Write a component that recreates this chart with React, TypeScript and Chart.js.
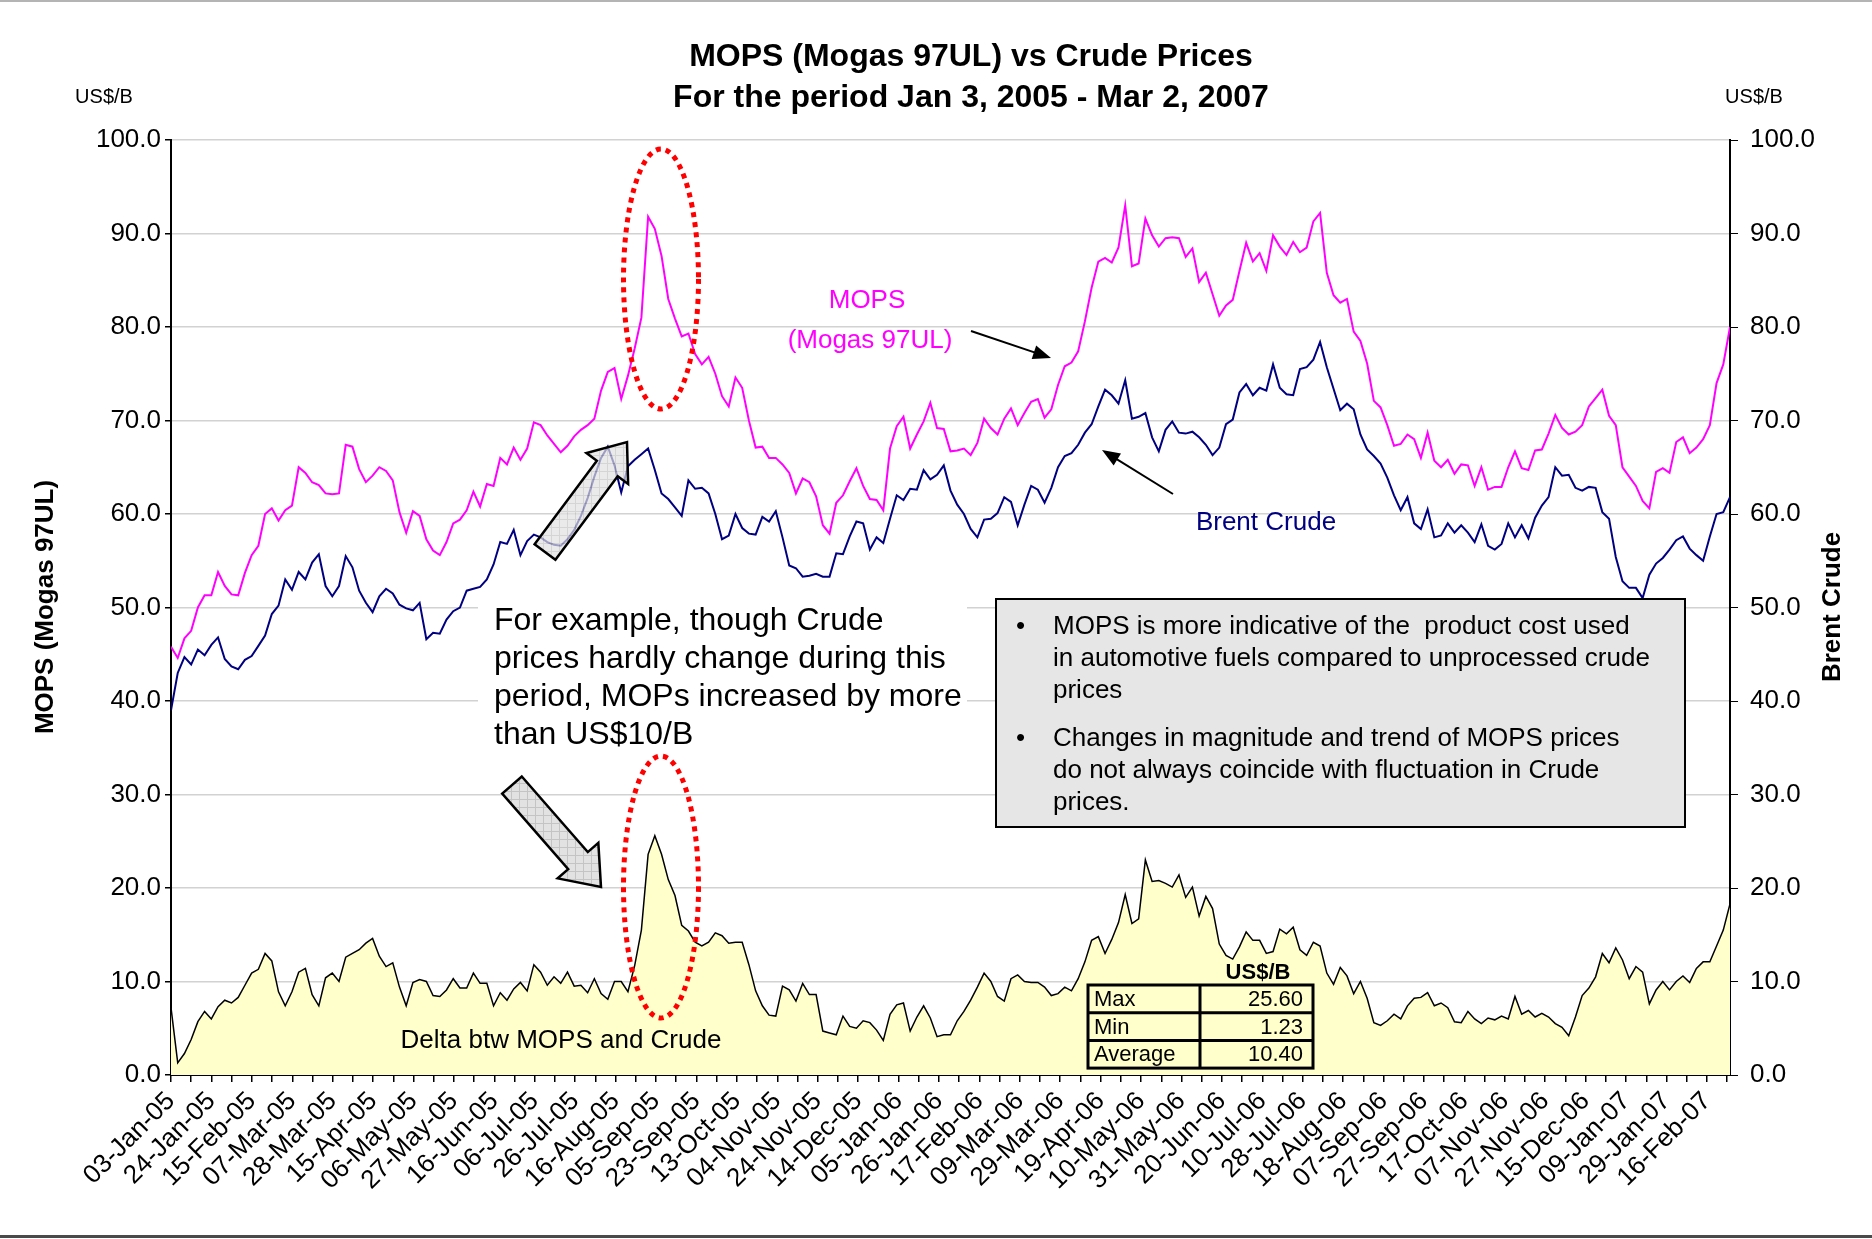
import React, { useEffect, useRef } from 'react';
import { Chart, registerables } from 'chart.js';

Chart.register(...registerables);

// Date labels shown on the x axis: one every 14 trading days
const tickLabels = [
  '03-Jan-05', '24-Jan-05', '15-Feb-05', '07-Mar-05', '28-Mar-05', '15-Apr-05', '06-May-05',
  '27-May-05', '16-Jun-05', '06-Jul-05', '26-Jul-05', '16-Aug-05', '05-Sep-05', '23-Sep-05',
  '13-Oct-05', '04-Nov-05', '24-Nov-05', '14-Dec-05', '05-Jan-06', '26-Jan-06', '17-Feb-06',
  '09-Mar-06', '29-Mar-06', '19-Apr-06', '10-May-06', '31-May-06', '20-Jun-06', '10-Jul-06',
  '28-Jul-06', '18-Aug-06', '07-Sep-06', '27-Sep-06', '17-Oct-06', '07-Nov-06', '27-Nov-06',
  '15-Dec-06', '09-Jan-07', '29-Jan-07', '16-Feb-07',
];
const TRADING_DAYS = 540; // 03-Jan-05 .. 02-Mar-07
const LABEL_EVERY = 14;
const TICK_EVERY = 7;

// Sampled values, evenly spaced over the period (US$/B)
const mopsPrices = [
  45.8, 44.6, 46.7, 47.5, 50, 51.3, 51.3, 53.8, 52.3, 51.4,
  51.3, 53.7, 55.6, 56.6, 60, 60.6, 59.3, 60.4, 60.9, 65,
  64.4, 63.4, 63.1, 62.2, 62.1, 62.2, 67.4, 67.2, 64.8, 63.4,
  64.1, 65, 64.6, 63.6, 60.2, 58, 60.3, 59.8, 57.3, 56.1,
  55.6, 57, 59, 59.4, 60.4, 62.4, 60.8, 63.2, 63, 66,
  65.3, 67.1, 65.8, 67, 69.8, 69.5, 68.4, 67.5, 66.6, 67.3,
  68.3, 69, 69.5, 70.2, 73.2, 75.2, 75.6, 72.3, 74.8, 77.7,
  81, 91.8, 90.5, 87.6, 83, 80.9, 79, 79.3, 77.1, 76,
  76.8, 75, 72.6, 71.5, 74.6, 73.5, 70, 67.1, 67.2, 66,
  66, 65.3, 64.4, 62.2, 63.8, 63.4, 61.9, 58.8, 57.9, 61.2,
  62, 63.5, 64.9, 63, 61.6, 61.5, 60.4, 67, 69.4, 70.4,
  67, 68.5, 69.9, 71.9, 69.2, 69.1, 66.7, 66.8, 67, 66.3,
  67.6, 70.2, 69.2, 68.5, 70.2, 71.3, 69.5, 70.8, 72, 72.3,
  70.3, 71.2, 73.8, 75.8, 76.2, 77.4, 80.6, 84.2, 87, 87.4,
  86.9, 88.5, 93, 86.5, 86.8, 91.6, 89.8, 88.6, 89.5, 89.6,
  89.5, 87.5, 88.4, 84.8, 85.8, 83.5, 81.2, 82.3, 82.9, 86,
  89, 87, 87.9, 86, 89.8, 88.6, 87.7, 89.1, 88, 88.5,
  91.3, 92.2, 85.8, 83.4, 82.6, 83, 79.5, 78.5, 76.1, 72.1,
  71.4, 69.5, 67.3, 67.5, 68.5, 68, 66, 68.7, 65.7, 65,
  65.8, 64.3, 65.3, 65.2, 63, 65, 62.6, 62.9, 62.9, 65,
  66.7, 64.9, 64.7, 66.8, 66.9, 68.6, 70.6, 69.2, 68.5, 68.8,
  69.5, 71.5, 72.4, 73.3, 70.5, 69.5, 65, 64, 63, 61.4,
  60.6, 64.5, 64.9, 64.4, 67.7, 68.2, 66.5, 67.1, 68, 69.5,
  74, 76, 80,
];

const brentPrices = [
  39, 43, 44.7, 43.9, 45.5, 44.9, 46, 46.8, 44.5, 43.7,
  43.4, 44.4, 44.8, 45.9, 47, 49.3, 50.2, 53, 51.9, 53.8,
  53, 54.8, 55.7, 52.3, 51.2, 52.3, 55.5, 54.3, 51.8, 50.5,
  49.5, 51.2, 52, 51.5, 50.3, 49.9, 49.7, 50.5, 46.6, 47.3,
  47.2, 48.7, 49.6, 50, 51.8, 52, 52.2, 53, 54.6, 57,
  56.8, 58.3, 55.6, 57.1, 57.8, 57.5, 57, 56.7, 56.6, 57.3,
  58.3, 59.8, 61.7, 64, 66, 67.2, 65.2, 62.3, 65.1, 65.8,
  66.4, 67, 64.7, 62.2, 61.6, 60.7, 59.8, 63.6, 62.7, 62.8,
  62.2, 60, 57.3, 57.7, 60, 58.5, 57.9, 57.8, 59.7, 59.2,
  60.3, 57.5, 54.5, 54.2, 53.3, 53.4, 53.6, 53.3, 53.3, 55.8,
  55.7, 57.6, 59.2, 59, 56.2, 57.5, 56.9, 59.5, 62, 61.5,
  62.7, 62.6, 64.7, 63.7, 64.2, 65.2, 62.5, 61, 60, 58.4,
  57.5, 59.4, 59.5, 60.1, 61.8, 61.3, 58.8, 61, 63, 62.6,
  61.2, 62.8, 65, 66.2, 66.5, 67.4, 68.7, 69.6, 71.5, 73.3,
  72.7, 71.8, 74.3, 70.2, 70.4, 70.8, 68.2, 66.7, 69, 69.9,
  68.7, 68.6, 68.8, 68.2, 67.4, 66.3, 67.1, 69.6, 70.1, 73,
  73.9, 72.7, 73.5, 73.2, 76, 73.5, 72.8, 72.7, 75.5, 75.7,
  76.5, 78.4, 75.7, 73.4, 71.1, 71.8, 71.2, 68.5, 66.9, 66.2,
  65.4, 63.9, 62, 60.4, 61.8, 59, 58.4, 60.5, 57.5, 57.7,
  59, 58, 58.8, 58, 57, 58.9, 56.6, 56.2, 56.8, 59,
  57.5, 58.8, 57.4, 59.6, 60.9, 61.8, 65, 64.1, 64.2, 62.8,
  62.5, 62.9, 62.8, 60.2, 59.5, 55.4, 52.8, 52.1, 52.1, 51,
  53.5, 54.7, 55.3, 56.2, 57.2, 57.6, 56.3, 55.6, 55, 57.6,
  60, 60.2, 61.8,
];

const deltaValues = [
  7.2, 1.3, 2.3, 3.8, 5.7, 6.8, 6, 7.3, 8, 7.7,
  8.3, 9.6, 10.9, 11.3, 13, 12.2, 8.9, 7.4, 8.9, 11,
  11.4, 8.6, 7.4, 10.4, 10.9, 10, 12.6, 13, 13.4, 14.1,
  14.6, 12.7, 11.6, 12, 9.4, 7.4, 9.9, 10.2, 10, 8.5,
  8.4, 9.1, 10.3, 9.3, 9.3, 10.9, 9.8, 9.8, 7.4, 8.8,
  8, 9.2, 9.9, 9, 11.8, 11, 9.6, 10.5, 9.8, 11,
  9.5, 9.6, 8.8, 10.3, 8.7, 8.1, 10, 10, 8.9, 11.7,
  15.5, 23.6, 25.6, 23.6, 20.9, 19.2, 16, 15.4, 14.2, 13.8,
  14.2, 15.2, 14.9, 14.1, 14.2, 14.2, 11.8, 9, 7.4, 6.4,
  6.3, 9.5, 9.1, 7.9, 9.8, 8.6, 8.6, 4.7, 4.5, 4.3,
  6.3, 5.2, 5, 5.8, 5.6, 4.8, 3.7, 6.5, 7.5, 7.7,
  4.7, 6.2, 7.4, 6.1, 4.1, 4.3, 4.3, 5.8, 6.8, 8,
  9.4, 10.9, 10, 8.4, 7.9, 10.3, 10.7, 10, 9.9, 9.9,
  9.4, 8.5, 8.7, 9.4, 9, 10.3, 12.1, 14.4, 14.8, 13,
  14.5, 16.3, 19.3, 16.2, 16.7, 23, 20.7, 20.8, 20.5, 20.1,
  21.4, 19, 20.1, 17, 19.1, 17.8, 14, 12.8, 12.4, 13.7,
  15.3, 14.4, 14.4, 13, 13.2, 15.6, 15.1, 15.8, 13.4, 12.8,
  14.2, 13.8, 10.9, 9.7, 11.5, 10.6, 8.7, 10, 8.2, 5.6,
  5.3, 5.8, 6.5, 6, 7.4, 8.2, 8.3, 8.8, 7.4, 7.7,
  7.2, 5.7, 5.6, 6.8, 6, 5.5, 6.1, 5.9, 6.3, 6,
  8.4, 6.5, 6.9, 6.2, 6.6, 6.2, 5.5, 5.1, 4.2, 6.2,
  8.5, 9.3, 10.5, 13, 12, 13.6, 12.3, 10.3, 11.6, 11,
  7.6, 9.1, 10, 9.1, 10, 10.6, 9.9, 11.4, 12.1, 12.1,
  13.8, 15.5, 18.3,
];

const statsRows = [
  ['Max', '25.60'],
  ['Min', '1.23'],
  ['Average', '10.40'],
];

const bulletLines = [
  ['MOPS is more indicative of the  product cost used', 'in automotive fuels compared to unprocessed crude', 'prices'],
  ['Changes in magnitude and trend of MOPS prices', 'do not always coincide with fluctuation in Crude', 'prices.'],
];

const exampleLines = [
  'For example, though Crude',
  'prices hardly change during this',
  'period, MOPs increased by more',
  'than US$10/B',
];

const FONT = '"Liberation Sans", Arial, sans-serif';

function makePattern(ctx: CanvasRenderingContext2D) {
  const c = document.createElement('canvas');
  c.width = 8;
  c.height = 8;
  const p = c.getContext('2d')!;
  p.fillStyle = '#E2E2E2';
  p.fillRect(0, 0, 8, 8);
  p.fillStyle = '#C4C4C4';
  p.fillRect(7, 0, 1, 8);
  p.fillRect(0, 7, 8, 1);
  return ctx.createPattern(c, 'repeat');
}

function blockArrow(
  ctx: CanvasRenderingContext2D,
  x0: number, y0: number, x1: number, y1: number,
  shaftW: number, headHalf: number, headLen: number, alpha: number,
) {
  const ang = Math.atan2(y1 - y0, x1 - x0);
  const L = Math.hypot(x1 - x0, y1 - y0);
  const c = Math.cos(ang), s = Math.sin(ang);
  const local: [number, number][] = [
    [0, -shaftW / 2], [L - headLen, -shaftW / 2], [L - headLen, -headHalf], [L, 0],
    [L - headLen, headHalf], [L - headLen, shaftW / 2], [0, shaftW / 2],
  ];
  ctx.save();
  ctx.beginPath();
  local.forEach(([u, v], i) => {
    const px = x0 + u * c - v * s;
    const py = y0 + u * s + v * c;
    if (i === 0) ctx.moveTo(px, py); else ctx.lineTo(px, py);
  });
  ctx.closePath();
  ctx.globalAlpha = alpha;
  ctx.fillStyle = makePattern(ctx) || '#DDD';
  ctx.fill();
  ctx.globalAlpha = 1;
  ctx.lineWidth = 2.5;
  ctx.strokeStyle = '#000';
  ctx.lineJoin = 'miter';
  ctx.stroke();
  ctx.restore();
}

function lineArrow(ctx: CanvasRenderingContext2D, x0: number, y0: number, x1: number, y1: number) {
  const ang = Math.atan2(y1 - y0, x1 - x0);
  const hl = 18, hw = 7;
  ctx.save();
  ctx.strokeStyle = '#000';
  ctx.fillStyle = '#000';
  ctx.lineWidth = 2;
  ctx.beginPath();
  ctx.moveTo(x0, y0);
  ctx.lineTo(x1 - Math.cos(ang) * hl * 0.8, y1 - Math.sin(ang) * hl * 0.8);
  ctx.stroke();
  ctx.beginPath();
  ctx.moveTo(x1, y1);
  ctx.lineTo(x1 - hl * Math.cos(ang) + hw * Math.sin(ang), y1 - hl * Math.sin(ang) - hw * Math.cos(ang));
  ctx.lineTo(x1 - hl * Math.cos(ang) - hw * Math.sin(ang), y1 - hl * Math.sin(ang) + hw * Math.cos(ang));
  ctx.closePath();
  ctx.fill();
  ctx.restore();
}

function dottedEllipse(ctx: CanvasRenderingContext2D, cx: number, cy: number, rx: number, ry: number) {
  ctx.save();
  ctx.strokeStyle = '#FF0000';
  ctx.lineWidth = 5;
  ctx.setLineDash([5, 5]);
  ctx.lineCap = 'butt';
  ctx.beginPath();
  ctx.ellipse(cx, cy, rx, ry, 0, 0, Math.PI * 2);
  ctx.stroke();
  ctx.restore();
}

const backgroundPlugin = {
  id: 'pageBackground',
  beforeDraw(chart: any) {
    const { ctx, width, height } = chart;
    ctx.save();
    ctx.fillStyle = '#FFFFFF';
    ctx.fillRect(0, 0, width, height);
    ctx.fillStyle = '#B4B4B4';
    ctx.fillRect(0, 0, width, 2);
    ctx.fillStyle = '#4A4A4A';
    ctx.fillRect(0, height - 4, width, 3);
    ctx.restore();
  },
};

const annotationPlugin = {
  id: 'annotations',
  afterDraw(chart: any) {
    const ctx: CanvasRenderingContext2D = chart.ctx;
    ctx.save();

    // Title
    ctx.fillStyle = '#000';
    ctx.textAlign = 'center';
    ctx.textBaseline = 'middle';
    ctx.font = `bold 32px ${FONT}`;
    ctx.fillText('MOPS (Mogas 97UL) vs Crude Prices', 971, 57);
    ctx.fillText('For the period Jan 3, 2005 - Mar 2, 2007', 971, 98);

    // Units
    ctx.font = `20px ${FONT}`;
    ctx.fillText('US$/B', 104, 97);
    ctx.fillText('US$/B', 1754, 97);

    // Axis titles (both read bottom-to-top)
    ctx.font = `bold 26px ${FONT}`;
    ctx.save();
    ctx.translate(46, 607);
    ctx.rotate(-Math.PI / 2);
    ctx.fillText('MOPS (Mogas 97UL)', 0, 0);
    ctx.restore();
    ctx.save();
    ctx.translate(1833, 607);
    ctx.rotate(-Math.PI / 2);
    ctx.fillText('Brent Crude', 0, 0);
    ctx.restore();

    // Series labels
    ctx.font = `26px ${FONT}`;
    ctx.fillStyle = '#FF00FF';
    ctx.fillText('MOPS', 867, 301);
    ctx.fillText('(Mogas 97UL)', 870, 341);
    ctx.fillStyle = '#000080';
    ctx.fillText('Brent Crude', 1266, 523);
    lineArrow(ctx, 971, 331, 1051, 358);
    lineArrow(ctx, 1173, 494, 1102, 450);

    // Example text block (white background)
    ctx.fillStyle = '#FFFFFF';
    ctx.fillRect(478, 597, 489, 155);
    ctx.fillStyle = '#000';
    ctx.textAlign = 'left';
    ctx.font = `32px ${FONT}`;
    exampleLines.forEach((t, i) => ctx.fillText(t, 494, 621 + i * 38.2));

    // Block arrows
    blockArrow(ctx, 545, 552, 627, 442, 26, 26, 33, 0.7);
    blockArrow(ctx, 512, 785, 601, 887, 26, 27, 35, 1);

    // Red dotted ellipses
    dottedEllipse(ctx, 661, 279, 37.5, 130);
    dottedEllipse(ctx, 661, 887, 37.5, 131);

    // Bullet box
    ctx.fillStyle = '#E6E6E6';
    ctx.fillRect(996, 599, 689, 228);
    ctx.strokeStyle = '#000';
    ctx.lineWidth = 2;
    ctx.strokeRect(996, 599, 689, 228);
    ctx.fillStyle = '#000';
    ctx.font = `26px ${FONT}`;
    const lineY = [[627, 659, 691], [739, 771, 803]];
    bulletLines.forEach((lines, b) => {
      ctx.fillText('\u2022', 1016, lineY[b][0]);
      lines.forEach((t, i) => ctx.fillText(t, 1053, lineY[b][i]));
    });

    // Delta label
    ctx.textAlign = 'center';
    ctx.fillText('Delta btw MOPS and Crude', 561, 1041);

    // Stats table
    ctx.font = `bold 22px ${FONT}`;
    ctx.fillText('US$/B', 1258, 973);
    const tx = 1088, ty = 985, tw = 225, rowH = 27.7, colX = 1200;
    ctx.fillStyle = '#FFFFCC';
    ctx.fillRect(tx, ty, tw, rowH * 3);
    ctx.strokeStyle = '#000';
    ctx.lineWidth = 3;
    ctx.strokeRect(tx, ty, tw, rowH * 3);
    ctx.beginPath();
    ctx.moveTo(colX, ty);
    ctx.lineTo(colX, ty + rowH * 3);
    ctx.moveTo(tx, ty + rowH);
    ctx.lineTo(tx + tw, ty + rowH);
    ctx.moveTo(tx, ty + rowH * 2);
    ctx.lineTo(tx + tw, ty + rowH * 2);
    ctx.stroke();
    ctx.fillStyle = '#000';
    ctx.font = `22px ${FONT}`;
    statsRows.forEach(([k, v], i) => {
      const cy = ty + rowH * i + rowH / 2 + 1;
      ctx.textAlign = 'left';
      ctx.fillText(k, tx + 6, cy);
      ctx.textAlign = 'right';
      ctx.fillText(v, tx + tw - 10, cy);
    });

    ctx.restore();
  },
};

export default function App() {
  const ref = useRef<HTMLCanvasElement>(null);

  useEffect(() => {
    const canvas = ref.current;
    if (!canvas) return;
    const step = TRADING_DAYS / (mopsPrices.length - 1);
    const toPoints = (arr: number[]) => arr.map((y, i) => ({ x: i * step, y }));

    const tickFont = { family: FONT, size: 26 };

    const chart = new Chart(canvas, {
      type: 'line',
      data: {
        datasets: [
          {
            label: 'MOPS (Mogas 97UL)',
            data: toPoints(mopsPrices),
            borderColor: '#FF00FF',
            borderWidth: 2,
            pointRadius: 0,
            fill: false,
            tension: 0,
            yAxisID: 'y',
          },
          {
            label: 'Brent Crude',
            data: toPoints(brentPrices),
            borderColor: '#000080',
            borderWidth: 2,
            pointRadius: 0,
            fill: false,
            tension: 0,
            yAxisID: 'y2',
          },
          {
            label: 'Delta btw MOPS and Crude',
            data: toPoints(deltaValues),
            borderColor: '#000000',
            borderWidth: 1.5,
            backgroundColor: '#FFFFCC',
            pointRadius: 0,
            fill: 'origin',
            tension: 0,
            yAxisID: 'y',
          },
        ],
      },
      options: {
        animation: false,
        responsive: false,
        layout: { padding: { top: 140, left: 0, right: 0, bottom: 0 } },
        plugins: {
          legend: { display: false },
          title: { display: false },
          tooltip: { enabled: false },
        },
        scales: {
          x: {
            type: 'linear',
            position: 'bottom',
            min: 0,
            max: TRADING_DAYS,
            grid: { drawOnChartArea: false, tickColor: '#000', tickLength: 7, lineWidth: 1.5 },
            border: { color: '#000', width: 2 },
            ticks: {
              stepSize: TICK_EVERY,
              autoSkip: false,
              includeBounds: false,
              minRotation: 45,
              maxRotation: 45,
              padding: 4,
              color: '#000',
              font: tickFont,
              callback: (v: any) => {
                const n = Math.round(Number(v));
                return n % LABEL_EVERY === 0 ? tickLabels[n / LABEL_EVERY] ?? '' : '';
              },
            },
            afterFit: (s: any) => { s.height = 164; },
          },
          y: {
            position: 'left',
            min: 0,
            max: 100,
            grid: { color: '#D2D2D2', lineWidth: 1.5, tickColor: '#000', tickLength: 6 },
            border: { color: '#000', width: 2 },
            ticks: {
              stepSize: 10,
              color: '#000',
              font: tickFont,
              padding: 4,
              callback: (v: any) => Number(v).toFixed(1),
            },
            afterFit: (s: any) => { s.width = 171; },
          },
          y2: {
            position: 'right',
            min: 0,
            max: 100,
            grid: { drawOnChartArea: false, tickColor: '#000', tickLength: 8 },
            border: { color: '#000', width: 2 },
            ticks: {
              stepSize: 10,
              color: '#000',
              font: tickFont,
              padding: 12,
              callback: (v: any) => Number(v).toFixed(1),
            },
            afterFit: (s: any) => { s.width = 142; },
          },
        },
      } as any,
      plugins: [backgroundPlugin, annotationPlugin],
    });

    return () => chart.destroy();
  }, []);

  return (
    <div style={{ position: 'absolute', left: 0, top: 0, width: 1872, height: 1239, overflow: 'hidden', background: '#fff' }}>
      <canvas ref={ref} width={1872} height={1239} style={{ display: 'block' }} />
    </div>
  );
}
